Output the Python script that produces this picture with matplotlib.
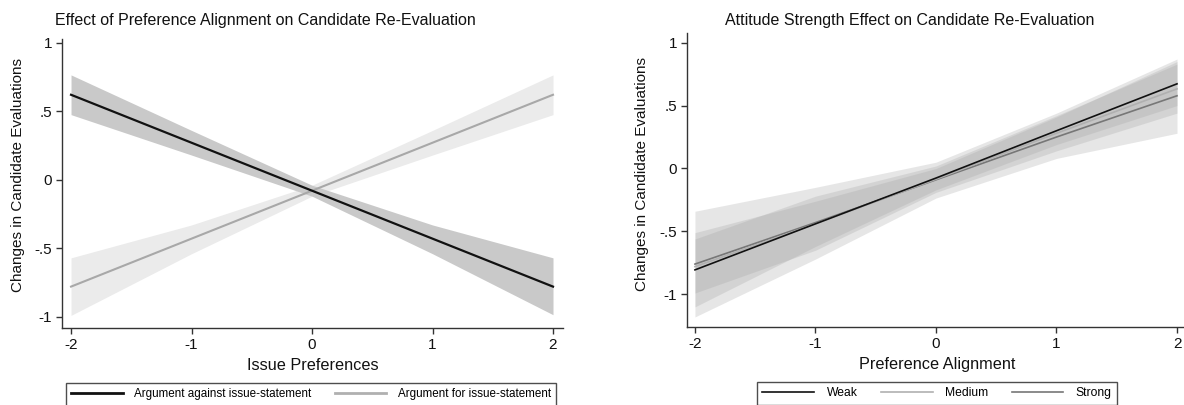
import matplotlib
matplotlib.use("Agg")
import matplotlib.pyplot as plt
from matplotlib.lines import Line2D

plt.rcParams['font.family'] = ['Liberation Sans', 'DejaVu Sans']

# ---------------- data ----------------
x_pts = [-2, -1, 0, 1, 2]
xticks = [-2, -1, 0, 1, 2]

# Left panel: Effect of Preference Alignment
against = [0.62, 0.27, -0.08, -0.43, -0.78]
against_lo = [0.475, 0.18, -0.12, -0.54, -0.985]
against_hi = [0.765, 0.36, -0.04, -0.33, -0.57]
favor = [-0.78, -0.43, -0.08, 0.27, 0.62]
favor_lo = [-0.99, -0.54, -0.12, 0.18, 0.475]
favor_hi = [-0.57, -0.33, -0.04, 0.36, 0.765]
left_yticks = [-1, -0.5, 0, 0.5, 1]
left_yticklabels = ['-1', '-.5', '0', '.5', '1']

# Right panel: Attitude strength
weak = [-0.806, -0.44, -0.076, 0.30, 0.673]
weak_lo = [-1.10, -0.62, -0.17, 0.19, 0.50]
weak_hi = [-0.51, -0.26, 0.00, 0.41, 0.85]
medium = [-0.78, -0.44, -0.085, 0.28, 0.633]
medium_lo = [-0.99, -0.65, -0.19, 0.14, 0.44]
medium_hi = [-0.56, -0.22, 0.02, 0.42, 0.83]
strong = [-0.76, -0.43, -0.09, 0.25, 0.578]
strong_lo = [-1.18, -0.72, -0.235, 0.08, 0.28]
strong_hi = [-0.34, -0.15, 0.05, 0.44, 0.87]
right_yticks = [-1, -0.5, 0, 0.5, 1]
right_yticklabels = ['-1', '-.5', '0', '.5', '1']

W, H = 1184, 405
fig = plt.figure(figsize=(W / 100, H / 100), dpi=100)


def px_axes(l, r, t, b):
    return fig.add_axes([l / W, 1 - b / H, (r - l) / W, (b - t) / H])


def style(ax):
    for s in ['top', 'right']:
        ax.spines[s].set_visible(False)
    for s in ['left', 'bottom']:
        ax.spines[s].set_color('#333333')
        ax.spines[s].set_linewidth(1.0)
    ax.tick_params(axis='both', direction='out', length=4, width=1.0,
                   color='#333333', labelsize=11, labelcolor='#111111', pad=3)
    ax.set_xticks(xticks)
    ax.set_xticklabels([str(v) for v in xticks])


# ---------------- left ----------------
ax1 = px_axes(62, 563, 39, 328)
ax1.fill_between(x_pts, favor_lo, favor_hi, color='#ebebeb', lw=0, zorder=1)
ax1.fill_between(x_pts, against_lo, against_hi, color='#c9c9c9', lw=0, zorder=2)
ax1.plot(x_pts, favor, color='#a8a8a8', lw=1.5, zorder=3)
ax1.plot(x_pts, against, color='#111111', lw=1.6, zorder=4)
ax1.set_xlim(-2.075, 2.083)
ax1.set_ylim(-1.082, 1.027)
ax1.set_yticks(left_yticks)
ax1.set_yticklabels(left_yticklabels)
style(ax1)

# ---------------- right ----------------
ax2 = px_axes(687, 1184, 33, 327)
band_c = '#a0a0a0'
ax2.fill_between(x_pts, strong_lo, strong_hi, color=band_c, alpha=0.26, lw=0, zorder=1)
ax2.fill_between(x_pts, medium_lo, medium_hi, color=band_c, alpha=0.26, lw=0, zorder=1)
ax2.fill_between(x_pts, weak_lo, weak_hi, color=band_c, alpha=0.26, lw=0, zorder=1)
ax2.plot(x_pts, strong, color='#777777', lw=1.2, zorder=3)
ax2.plot(x_pts, medium, color='#b0b0b0', lw=1.2, zorder=3)
ax2.plot(x_pts, weak, color='#111111', lw=1.2, zorder=4)
ax2.set_xlim(-2.066, 2.058)
ax2.set_ylim(-1.26, 1.077)
ax2.set_yticks(right_yticks)
ax2.set_yticklabels(right_yticklabels)
style(ax2)

# ---------------- text ----------------
def ftext(xp, yp, s, **kw):
    fig.text(xp / W, 1 - yp / H, s, ha='center', va='center', color='#111111', **kw)

ftext(265, 20, 'Effect of Preference Alignment on Candidate Re-Evaluation', fontsize=11.5)
ftext(910, 20, 'Attitude Strength Effect on Candidate Re-Evaluation', fontsize=11.5)
ftext(313, 365, 'Issue Preferences', fontsize=11.7)
ftext(937, 365, 'Preference Alignment', fontsize=11.7)
ftext(18, 175, 'Changes in Candidate Evaluations', fontsize=11, rotation=90)
ftext(642, 174, 'Changes in Candidate Evaluations', fontsize=11, rotation=90)

# ---------------- legends ----------------
h1 = [Line2D([], [], color='#111111', lw=2.0),
      Line2D([], [], color='#b0b0b0', lw=2.0)]
leg1 = fig.legend(h1, ['Argument against issue-statement', 'Argument for issue-statement'],
                  loc='upper left', bbox_to_anchor=(66 / W, 0, 490 / W, 1 - 383 / H),
                  mode='expand', ncol=2, fontsize=8.4, handlelength=4.4,
                  handletextpad=1.0, columnspacing=1.5, borderaxespad=0,
                  fancybox=False, frameon=True, borderpad=0.45)
leg1.get_frame().set_edgecolor('#222222')
leg1.get_frame().set_linewidth(1.0)

h2 = [Line2D([], [], color='#111111', lw=1.2),
      Line2D([], [], color='#b0b0b0', lw=1.2),
      Line2D([], [], color='#777777', lw=1.2)]
leg2 = fig.legend(h2, ['Weak', 'Medium', 'Strong'],
                  loc='upper left', bbox_to_anchor=(757 / W, 0, 360 / W, 1 - 382 / H),
                  mode='expand', ncol=3, fontsize=8.7, handlelength=4.3,
                  handletextpad=1.0, columnspacing=1.5, borderaxespad=0,
                  fancybox=False, frameon=True, borderpad=0.45)
leg2.get_frame().set_edgecolor('#222222')
leg2.get_frame().set_linewidth(1.0)

fig.savefig('out.png', dpi=100)
